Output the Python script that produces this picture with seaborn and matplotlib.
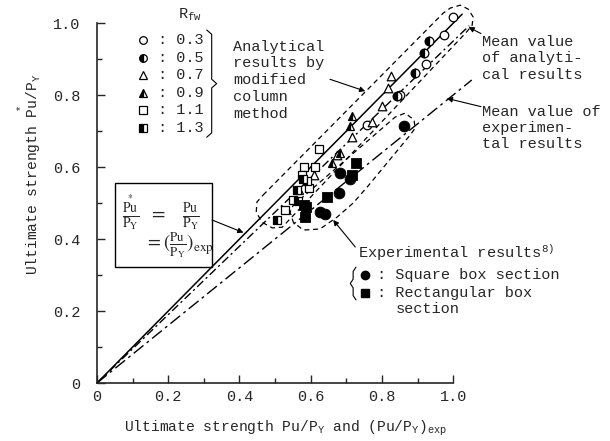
import matplotlib
matplotlib.use('Agg')
import matplotlib.pyplot as plt
import matplotlib.patches as patches
import seaborn as sns

# analytical results by modified column method, one pair of lists per R_fw
rfw03_x = [0.999, 0.973, 0.924, 0.851, 0.757]
rfw03_y = [1.017, 0.967, 0.886, 0.800, 0.717]
rfw05_x = [0.931, 0.917, 0.893, 0.842]
rfw05_y = [0.951, 0.916, 0.862, 0.797]
rfw07_x = [0.825, 0.818, 0.800, 0.772, 0.715, 0.673, 0.608]
rfw07_y = [0.853, 0.821, 0.769, 0.726, 0.684, 0.633, 0.578]
rfw09_x = [0.715, 0.709, 0.683, 0.659, 0.566]
rfw09_y = [0.742, 0.714, 0.640, 0.610, 0.536]
rfw11_x = [0.622, 0.612, 0.580, 0.594, 0.551, 0.528, 0.575]
rfw11_y = [0.649, 0.601, 0.601, 0.541, 0.508, 0.482, 0.578]
rfw13_x = [0.505, 0.561, 0.578, 0.565, 0.590]
rfw13_y = [0.453, 0.536, 0.566, 0.506, 0.560]
rfw_labels = ['0.3', '0.5', '0.7', '0.9', '1.1', '1.3']

# experimental results
exp_sq_x = [0.862, 0.683, 0.711, 0.678, 0.626, 0.640]
exp_sq_y = [0.714, 0.584, 0.566, 0.527, 0.476, 0.471]
exp_rect_x = [0.728, 0.715, 0.645, 0.580, 0.584, 0.586]
exp_rect_y = [0.610, 0.578, 0.517, 0.494, 0.462, 0.488]

# reference lines through the origin
solid_x = [0, 1.025]
solid_y = [0, 1.025]
mean_ana_x = [0, 1.045]
mean_ana_y = [0, 0.993]
mean_exp_x = [0, 1.052]
mean_exp_y = [0, 0.842]

# dashed envelopes around the two groups of results
env_ana_x = [0.466, 0.972, 0.992, 1.020, 1.042, 1.056, 1.053, 1.037,
             0.520, 0.492, 0.463, 0.447, 0.449, 0.466]
env_ana_y = [0.522, 1.028, 1.042, 1.050, 1.039, 1.017, 0.994, 0.975,
             0.433, 0.431, 0.447, 0.475, 0.503, 0.522]
env_exp_x = [0.551, 0.837, 0.865, 0.890, 0.893, 0.879, 0.758, 0.719,
             0.674, 0.626, 0.579, 0.551, 0.542, 0.551]
env_exp_y = [0.494, 0.739, 0.750, 0.731, 0.708, 0.689, 0.544, 0.500,
             0.461, 0.428, 0.425, 0.447, 0.475, 0.494]

sns.set_style('ticks')
plt.rcParams['font.family'] = ['Liberation Mono', 'DejaVu Sans Mono']
plt.rcParams['mathtext.fontset'] = 'custom'
plt.rcParams['mathtext.rm'] = 'Liberation Mono'
plt.rcParams['mathtext.it'] = 'Liberation Mono'
plt.rcParams['mathtext.bf'] = 'Liberation Mono'

fig = plt.figure(figsize=(6.1, 4.41), dpi=100)
ax = fig.add_axes([0.159, 0.1315, 0.584, 0.816])

# lines
sns.lineplot(x=solid_x, y=solid_y, color='k', lw=1.1, ax=ax)
sns.lineplot(x=mean_ana_x, y=mean_ana_y, color='k', lw=1.0,
             linestyle=(0, (6, 2.5, 1.5, 2.5)), ax=ax)
sns.lineplot(x=mean_exp_x, y=mean_exp_y, color='k', lw=1.0,
             linestyle=(0, (9, 3, 2, 3)), ax=ax)
sns.lineplot(x=env_ana_x, y=env_ana_y, color='k', lw=0.9, sort=False,
             estimator=None, linestyle=(0, (4, 3)), ax=ax)
sns.lineplot(x=env_exp_x, y=env_exp_y, color='k', lw=0.9, sort=False,
             estimator=None, linestyle=(0, (4, 3)), ax=ax)
for ln in ax.lines:
    ln.set_clip_on(False)

# markers
open_kw = dict(color='white', edgecolor='k', linewidth=0.9, s=38, zorder=4,
               clip_on=False, ax=ax)
sns.scatterplot(x=rfw03_x, y=rfw03_y, marker='o', **open_kw)
sns.scatterplot(x=rfw07_x, y=rfw07_y, marker='^', **open_kw)
sns.scatterplot(x=rfw11_x, y=rfw11_y, marker='s', **open_kw)
half_kw = dict(ls='none', ms=6.3, fillstyle='left', mfc='k', mfcalt='white',
               mec='k', mew=0.9, zorder=4, clip_on=False)
ax.plot(rfw05_x, rfw05_y, marker='o', **half_kw)
ax.plot(rfw09_x, rfw09_y, marker='^', **half_kw)
ax.plot(rfw13_x, rfw13_y, marker='s', **half_kw)
sns.scatterplot(x=exp_sq_x, y=exp_sq_y, marker='o', color='k', edgecolor='k',
                s=60, zorder=4, ax=ax)
sns.scatterplot(x=exp_rect_x, y=exp_rect_y, marker='s', color='k', edgecolor='k',
                s=55, zorder=4, ax=ax)

# axes
ax.set_xlim(0, 1.0)
ax.set_ylim(0, 1.0)
sns.despine(ax=ax)
ax.spines['left'].set_linewidth(1.2)
ax.spines['bottom'].set_linewidth(1.2)
ax.set_xticks([0, 0.2, 0.4, 0.6, 0.8, 1.0])
ax.set_xticklabels(['0', '0.2', '0.4', '0.6', '0.8', '1.0'])
ax.set_yticks([0, 0.2, 0.4, 0.6, 0.8, 1.0])
ax.set_yticklabels(['0', '0.2', '0.4', '0.6', '0.8', '1.0'])
ax.set_xticks([0.1, 0.3, 0.5, 0.7, 0.9], minor=True)
ax.set_yticks([0.1, 0.3, 0.5, 0.7, 0.9], minor=True)
ax.tick_params(which='both', direction='in', labelsize=11, width=1)
ax.tick_params(which='major', length=6)
ax.tick_params(which='minor', length=3.5)
ax.tick_params(axis='x', pad=5)
ax.tick_params(axis='y', pad=12)
ax.set_xlabel(r'Ultimate strength Pu/P$_{\mathrm{Y}}$ and (Pu/P$_{\mathrm{Y}}$)$_{\mathrm{exp}}$',
              fontsize=10.5)
ax.xaxis.set_label_coords(0.53, -0.1)
ax.set_ylabel(r'Ultimate strength $\overset{*}{\mathrm{Pu}}$/P$_{\mathrm{Y}}$', fontsize=10.5)
ax.yaxis.set_label_coords(-0.15, 0.58)

# R_fw legend
ax.text(0.261, 1.022, r'R$_{\mathrm{fw}}$', fontsize=11, ha='center', va='center')
leg_y = [0.953, 0.904, 0.856, 0.807, 0.758, 0.710]
leg_style = [('o', 'none'), ('o', 'left'), ('^', 'none'), ('^', 'left'),
             ('s', 'none'), ('s', 'left')]
for yy, lab, (mk, fs) in zip(leg_y, rfw_labels, leg_style):
    ax.plot([0.129], [yy], marker=mk, ms=5.5, ls='none', clip_on=False,
            fillstyle='full' if fs == 'none' else fs,
            mfc='white' if fs == 'none' else 'k', mfcalt='white',
            mec='k', mew=0.9)
    ax.text(0.172, yy, ': ' + lab, fontsize=11, ha='left', va='center')


def brace(x0, w, top, bot, right=True):
    mid = (top + bot) / 2
    c = 0.012
    s = 1 if right else -1
    xs = [x0, x0 + s * w / 2, x0 + s * w / 2, x0 + s * w, x0 + s * w / 2, x0 + s * w / 2, x0]
    ys = [top, top - c, mid + c, mid, mid - c, bot + c, bot]
    ax.plot(xs, ys, color='k', lw=0.8, clip_on=False)


brace(0.308, 0.028, 0.981, 0.683, right=True)
brace(0.727, 0.016, 0.322, 0.231, right=False)

ax.text(0.382, 0.842, 'Analytical\nresults by\nmodified\ncolumn\nmethod',
        fontsize=11, ha='left', va='center', linespacing=1.25)
ax.text(1.081, 0.902, 'Mean value\nof analyti-\ncal results',
        fontsize=11, ha='left', va='center', linespacing=1.2, clip_on=False)
ax.text(1.081, 0.708, 'Mean value of\nexperimen-\ntal results',
        fontsize=11, ha='left', va='center', linespacing=1.2, clip_on=False)
ax.text(0.733, 0.362, r'Experimental results$^{\mathrm{8)}}$', fontsize=11,
        ha='left', va='center')
ax.plot([0.752], [0.300], marker='o', ms=6, color='k', ls='none', clip_on=False)
ax.plot([0.752], [0.250], marker='s', ms=5.5, color='k', ls='none', clip_on=False)
ax.text(0.786, 0.300, ': Square box section', fontsize=11, ha='left', va='center')
ax.text(0.786, 0.250, ': Rectangular box', fontsize=11, ha='left', va='center')
ax.text(0.839, 0.206, 'section', fontsize=11, ha='left', va='center')

# box with the 1:1 relation
ax.add_patch(patches.Rectangle((0.051, 0.322), 0.272, 0.234, fill=False,
                               lw=1.0, ec='k', clip_on=False))
ax.text(0.180, 0.474,
        r'$\frac{\overset{*}{\mathrm{Pu}}}{\mathrm{P_Y}}\ \ =\ \ \ \frac{\mathrm{Pu}}{\mathrm{P_Y}}$',
        fontsize=14, ha='center', va='center', math_fontfamily='stix')
ax.text(0.232, 0.383, r'$=(\frac{\mathrm{Pu}}{\mathrm{P_Y}})_{\mathrm{exp}}$',
        fontsize=13.5, ha='center', va='center', math_fontfamily='stix')

# arrows
arr = dict(arrowstyle='-|>', color='k', lw=0.8, mutation_scale=8, shrinkA=0, shrinkB=0)
ax.annotate('', xy=(0.753, 0.811), xytext=(0.654, 0.844), arrowprops=arr)
ax.annotate('', xy=(1.043, 0.989), xytext=(1.078, 0.971), arrowprops=arr,
            annotation_clip=False)
ax.annotate('', xy=(0.982, 0.791), xytext=(1.078, 0.768), arrowprops=arr,
            annotation_clip=False)
ax.annotate('', xy=(0.411, 0.418), xytext=(0.323, 0.453), arrowprops=arr)
ax.annotate('', xy=(0.663, 0.453), xytext=(0.725, 0.378), arrowprops=arr)

fig.savefig('out.png', dpi=100)
